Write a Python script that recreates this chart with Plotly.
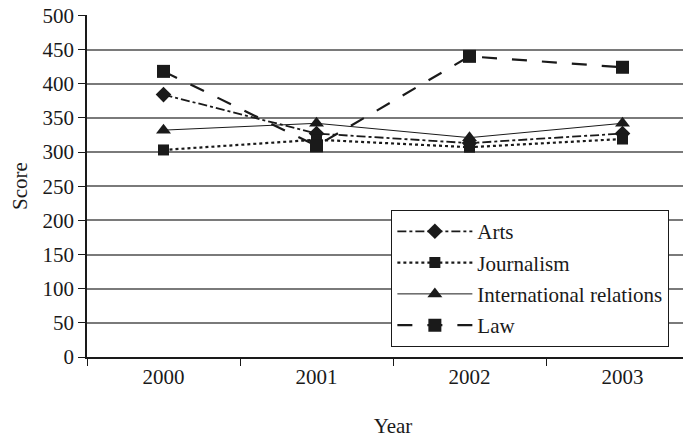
import plotly.graph_objects as go

years = ["2000", "2001", "2002", "2003"]
arts = [384, 327, 313, 327]
journalism = [303, 318, 307, 319]
intl_relations = [332, 342, 321, 342]
law = [418, 309, 440, 424]
y_ticks = [0, 50, 100, 150, 200, 250, 300, 350, 400, 450, 500]

ink = "#1a1a1a"
serif = "Liberation Serif, Times New Roman, serif"
fig = go.Figure()
series = [
    ("Arts", arts, "dashdot", 1.8, "diamond", 12),
    ("Journalism", journalism, "dot", 2.2, "square", 11),
    ("International relations", intl_relations, "solid", 1.0, "triangle-up", 13),
    ("Law", law, "longdash", 2.2, "square", 13),
]
for i, (name, vals, dash, w, sym, sz) in enumerate(series):
    fig.add_trace(go.Scatter(
        x=years, y=vals, name=name, mode="lines+markers",
        line=dict(color=ink, dash=dash, width=w),
        marker=dict(symbol=sym, size=sz, color=ink),
        legendgroup=name,
    ))

fig.update_layout(
    width=691, height=437,
    margin=dict(l=79, r=0, t=7, b=88, autoexpand=False),
    paper_bgcolor="white", plot_bgcolor="white",
    font=dict(family=serif, size=21, color=ink),
    showlegend=True,
    legend=dict(
        x=0.497, y=0.43, xanchor="left", yanchor="top",
        bgcolor="white", bordercolor=ink, borderwidth=1.2,
        font=dict(size=21, family=serif, color=ink),
        traceorder="grouped", tracegroupgap=1, itemwidth=75,
    ),
)
fig.update_xaxes(
    type="category", range=[-0.5, 3.5], tickson="boundaries",
    ticks="outside", ticklen=7, tickcolor=ink, showline=True, linecolor=ink,
    linewidth=1.5, showgrid=False, automargin=False,
    title=dict(text="Year", standoff=30, font=dict(family=serif, size=21, color=ink)),
    tickfont=dict(family=serif, size=21, color=ink),
)
fig.update_yaxes(
    range=[0, 500.5], tickvals=y_ticks, ticks="outside", ticklen=7, tickcolor=ink,
    showline=True, linecolor=ink, linewidth=1.5, automargin=False,
    ticklabeloverflow="allow",
    showgrid=True, gridcolor="#7a7a7a", gridwidth=1.5, zeroline=False,
    title=dict(text="Score", standoff=10, font=dict(family=serif, size=21, color=ink)),
    tickfont=dict(family=serif, size=21, color=ink),
)
fig.write_html("out.html")
